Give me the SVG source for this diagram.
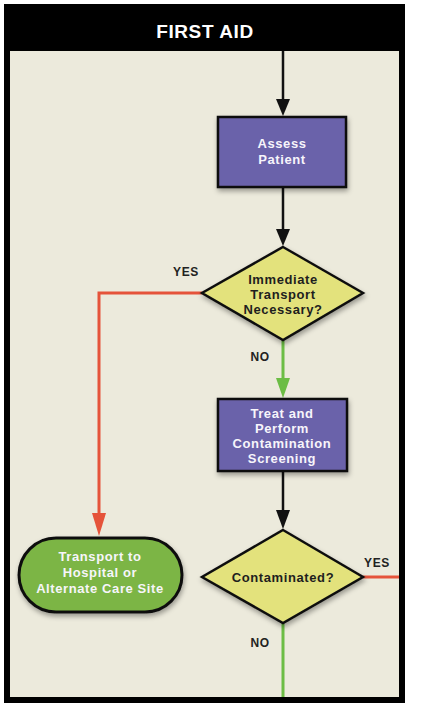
<svg xmlns="http://www.w3.org/2000/svg" width="423" height="709" viewBox="0 0 423 709">
<style>
.t{font-family:"Liberation Sans",Arial,sans-serif;font-weight:bold;text-anchor:middle;letter-spacing:0.6px}
.w{fill:#f7f5fb;font-size:13px}
.d{fill:#1e1e1e;font-size:13px}
.lbl{fill:#222;font-size:12px}
.box{fill:#6B62AA;stroke:#111;stroke-width:2.5}
.dia{fill:#E3E27C;stroke:#111;stroke-width:2.5;stroke-linejoin:miter}
.term{fill:#7CB544;stroke:#111;stroke-width:3}
.k{stroke:#111;stroke-width:2.5;fill:none}
.r{stroke:#E5533A;stroke-width:3;fill:none}
.g{stroke:#6CBD45;stroke-width:3;fill:none}
</style>
<defs>
<filter id="sh" x="-20%" y="-20%" width="140%" height="150%">
<feDropShadow dx="1" dy="3" stdDeviation="2.5" flood-color="#000" flood-opacity="0.35"/>
</filter>
</defs>
<rect x="0" y="0" width="423" height="709" fill="#ffffff"/>
<rect x="4" y="4" width="401" height="699" fill="#000"/>
<rect x="10" y="10" width="389" height="687" fill="#ECEADC"/>
<rect x="10" y="4" width="389" height="47" fill="#000"/>
<text class="t" x="205" y="38" fill="#fff" font-size="19">FIRST AID</text>

<g id="connectors">
<line class="k" x1="283" y1="51" x2="283" y2="100"/>
<polygon points="276,99 290,99 283,116" fill="#111"/>
<line class="k" x1="283" y1="187" x2="283" y2="230"/>
<polygon points="276,229 290,229 283,246" fill="#111"/>
<polyline class="r" points="202,293 99,293 99,515"/>
<polygon points="92,513 106,513 99,536" fill="#E5533A"/>
<line class="g" x1="283" y1="340" x2="283" y2="380"/>
<polygon points="276,378 290,378 283,398" fill="#6CBD45"/>
<line class="k" x1="283" y1="471" x2="283" y2="512"/>
<polygon points="276,510 290,510 283,529" fill="#111"/>
<line class="r" x1="363" y1="577" x2="399" y2="577"/>
<line class="g" x1="283" y1="623" x2="283" y2="697"/>
<text class="t lbl" x="186" y="276">YES</text>
<text class="t lbl" x="260" y="361">NO</text>
<text class="t lbl" x="377" y="567">YES</text>
<text class="t lbl" x="260" y="647">NO</text>
</g>

<g id="assess">
<rect class="box" x="218" y="117" width="128" height="70" filter="url(#sh)"/>
<text class="t w" x="282" y="148">Assess</text>
<text class="t w" x="282" y="164">Patient</text>
</g>

<g id="immediate">
<polygon class="dia" points="283,247 363,293 283,340 202,293" filter="url(#sh)"/>
<text class="t d" x="283" y="284">Immediate</text>
<text class="t d" x="283" y="299">Transport</text>
<text class="t d" x="283" y="314">Necessary?</text>
</g>

<g id="treat">
<rect class="box" x="218" y="399" width="129" height="72" filter="url(#sh)"/>
<text class="t w" x="282" y="418">Treat and</text>
<text class="t w" x="282" y="433">Perform</text>
<text class="t w" x="282" y="448">Contamination</text>
<text class="t w" x="282" y="463">Screening</text>
</g>

<g id="contaminated">
<polygon class="dia" points="283,530 363,577 283,623 202,577" filter="url(#sh)"/>
<text class="t d" x="283" y="582">Contaminated?</text>
</g>

<g id="transport">
<rect class="term" x="19" y="538" width="163" height="74" rx="37" ry="37" filter="url(#sh)"/>
<text class="t w" x="100" y="561" font-size="12.5">Transport to</text>
<text class="t w" x="100" y="577" font-size="12.5">Hospital or</text>
<text class="t w" x="100" y="593" font-size="12.5">Alternate Care Site</text>
</g>
</svg>
